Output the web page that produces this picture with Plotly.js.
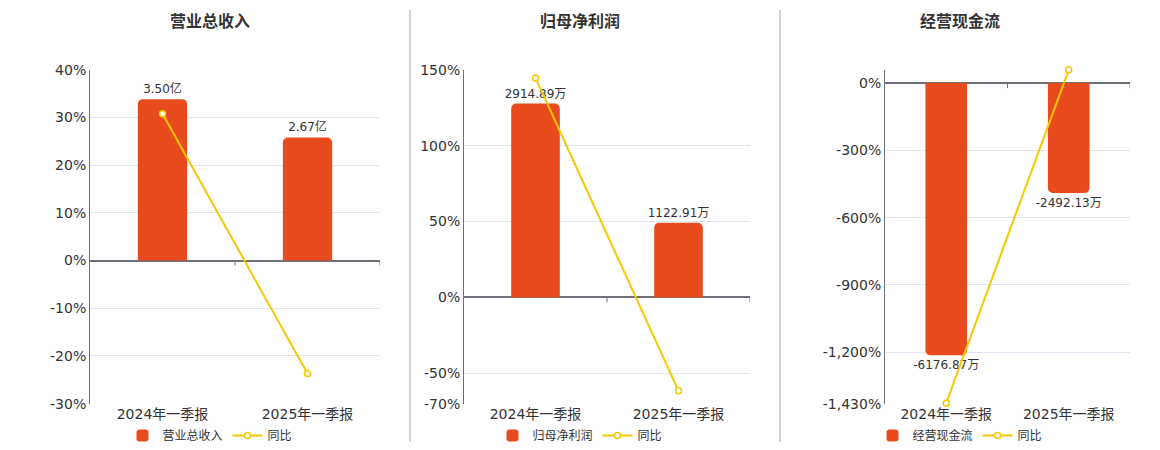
<!DOCTYPE html>
<html>
<head>
<meta charset="utf-8">
<script src="https://cdn.plot.ly/plotly-3.0.1.min.js"></script>
<style>
  html, body { margin: 0; padding: 0; background: #fff; }
  #chart { width: 1160px; height: 450px; }
</style>
</head>
<body>
<div id="chart"></div>
<script>
const categories = ['2024年一季报', '2025年一季报'];

const revenue = [3.50, 2.67];          // 亿
const revenueYoy = [30.8, -23.7];      // %
const profit = [2914.89, 1122.91];     // 万
const profitYoy = [144.7, -61.5];
const cashflow = [-6176.87, -2492.13]; // 万
const cashflowYoy = [-1428, 59.65];

const revenueTicks = [-30, -20, -10, 0, 10, 20, 30, 40];
const profitTicks = [-70, -50, 0, 50, 100, 150];
const cashflowTicks = [-1430, -1200, -900, -600, -300, 0];

const titles = ['营业总收入', '归母净利润', '经营现金流'];

const BAR = '#E84C1E';
const GOLD = '#F5C800';
const FONT = 'DejaVu Sans, "Noto Sans CJK SC", sans-serif';

function pctText(v) {
  return v.toLocaleString('en-US') + '%';
}

function barTrace(vals, unit, name, xa, ya, lg) {
  return {
    type: 'bar', x: categories, y: vals, name: name,
    xaxis: xa, yaxis: ya, legend: lg,
    width: 0.34,
    marker: { color: BAR, cornerradius: 5 },
    text: vals.map(v => v.toFixed(2) + unit),
    textposition: 'outside',
    constraintext: 'none',
    textfont: { size: 12, color: '#333' },
    cliponaxis: false,
    hoverinfo: 'x+text'
  };
}

function yoyTrace(vals, xa, ya, lg) {
  return {
    type: 'scatter', mode: 'lines+markers', x: categories, y: vals, name: '同比',
    xaxis: xa, yaxis: ya, legend: lg,
    line: { color: GOLD, width: 2 },
    marker: { symbol: 'circle', size: 6, color: '#fff', line: { color: GOLD, width: 1.5 } },
    cliponaxis: false
  };
}

// bars sit on the hidden base axes (y, y2, y3); the percent axes overlay them
const traces = [
  barTrace(revenue, '亿', '营业总收入', 'x', 'y', 'legend'),
  yoyTrace(revenueYoy, 'x', 'y4', 'legend'),
  barTrace(profit, '万', '归母净利润', 'x2', 'y2', 'legend2'),
  yoyTrace(profitYoy, 'x2', 'y5', 'legend2'),
  barTrace(cashflow, '万', '经营现金流', 'x3', 'y3', 'legend3'),
  yoyTrace(cashflowYoy, 'x3', 'y6', 'legend3')
];

const W = 1160, H = 450;
const yDom = [1 - 404.5 / H, 1 - 70 / H];

function xAxis(l, r, anchor) {
  return {
    domain: [l / W, r / W], anchor: anchor,
    type: 'category', range: [-0.5, 1.5],
    showline: false, showgrid: false, zeroline: false, ticks: '',
    tickfont: { size: 14, color: '#333' }, fixedrange: true
  };
}

function pctAxis(over, anchor, range, ticks, extraTop) {
  const vals = extraTop === undefined ? ticks : ticks.concat([extraTop]);
  const text = ticks.map(pctText).concat(extraTop === undefined ? [] : ['']);
  return {
    overlaying: over, anchor: anchor, side: 'left', range: range,
    tickmode: 'array', tickvals: vals, ticktext: text,
    showgrid: true, gridcolor: '#E0E6F1', gridwidth: 1,
    zeroline: true, zerolinecolor: '#6E7079', zerolinewidth: 2,
    showline: true, linecolor: '#6E7079', linewidth: 1,
    ticks: '', tickfont: { size: 14, color: '#333' }, fixedrange: true
  };
}

function barAxis(anchor, range) {
  return {
    domain: yDom, anchor: anchor, range: range,
    showgrid: false, zeroline: false, showline: false,
    showticklabels: false, ticks: '', fixedrange: true
  };
}

function legendAt(cx) {
  return {
    orientation: 'h', x: cx / W, xanchor: 'center', y: 1 - 436 / H, yanchor: 'middle',
    font: { size: 12, color: '#333' }, bgcolor: 'rgba(0,0,0,0)', itemwidth: 30
  };
}

const shapes = [];
// panel separators
[410, 780].forEach(px => shapes.push({
  type: 'line', xref: 'paper', yref: 'paper',
  x0: px / W, x1: px / W, y0: 1 - 443 / H, y1: 1 - 10 / H,
  line: { color: '#AAAAAA', width: 1 }
}));
// small ticks on the zero line at category boundaries
[['x', 'y'], ['x2', 'y2'], ['x3', 'y3']].forEach(([xr, yr]) => {
  [0.5, 1.5].forEach(xv => shapes.push({
    type: 'line', xref: xr, yref: yr, x0: xv, x1: xv,
    ysizemode: 'pixel', yanchor: 0, y0: 0, y1: -5,
    line: { color: '#6E7079', width: 1 }
  }));
});

const annotations = titles.map((t, i) => ({
  text: '<b>' + t + '</b>', xref: 'paper', yref: 'paper',
  x: [210, 580, 960][i] / W, y: 1 - 22 / H, xanchor: 'center', yanchor: 'middle',
  showarrow: false, font: { size: 16, color: '#333' }
}));

const layout = {
  width: W, height: H,
  margin: { l: 0, r: 0, t: 0, b: 0 },
  paper_bgcolor: '#fff', plot_bgcolor: 'rgba(0,0,0,0)',
  font: { family: FONT, color: '#333' },
  showlegend: true,
  barmode: 'overlay',
  xaxis: xAxis(90, 380, 'y'),
  xaxis2: xAxis(464, 750, 'y2'),
  xaxis3: xAxis(885, 1130, 'y3'),
  yaxis: barAxis('x', [-3.10, 4.135]),
  yaxis2: barAxis('x2', [-1597, 3421]),
  yaxis3: barAxis('x3', [-7271, 301]),
  yaxis4: pctAxis('y', 'x', [-30, 40], revenueTicks),
  yaxis5: pctAxis('y2', 'x2', [-70, 150], profitTicks),
  yaxis6: pctAxis('y3', 'x3', [-1430, 59.65], cashflowTicks, 59.65),
  legend: legendAt(210),
  legend2: legendAt(580),
  legend3: legendAt(960),
  shapes: shapes,
  annotations: annotations
};

Plotly.newPlot('chart', traces, layout, { displayModeBar: false, staticPlot: true });
</script>
</body>
</html>
